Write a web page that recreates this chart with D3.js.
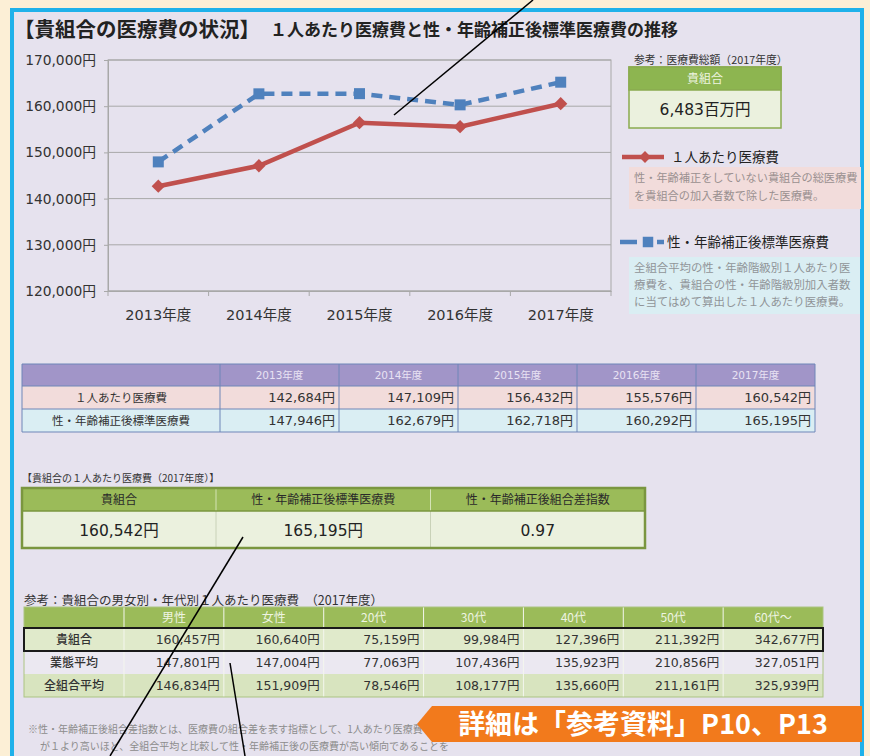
<!DOCTYPE html>
<html>
<head>
<meta charset="utf-8">
<script src="https://cdn.jsdelivr.net/npm/d3@7"></script>
<style>
  body { margin: 0; padding: 0; background: #fcefd6; }
  svg { display: block; }
</style>
</head>
<body>
<svg id="c" width="870" height="756"></svg>
<script>
// ---------------- DATA ----------------
const years = ["2013年度", "2014年度", "2015年度", "2016年度", "2017年度"];
const perCapita = [142684, 147109, 156432, 155576, 160542];
const standardized = [147946, 162679, 162718, 160292, 165195];
const yTicks = [120000, 130000, 140000, 150000, 160000, 170000];
const seriesNames = ["１人あたり医療費", "性・年齢補正後標準医療費"];
const totalCostLabel = "貴組合";
const totalCostValue = "6,483百万円";

const summaryHeaders = ["貴組合", "性・年齢補正後標準医療費", "性・年齢補正後組合差指数"];
const summaryIndex = 0.97;

const ageCols = ["男性", "女性", "20代", "30代", "40代", "50代", "60代〜"];
const ageRows = ["貴組合", "業態平均", "全組合平均"];
const ageKumiai = [160457, 160640, 75159, 99984, 127396, 211392, 342677];
const ageGyotai = [147801, 147004, 77063, 107436, 135923, 210856, 327051];
const ageZen = [146834, 151909, 78546, 108177, 135660, 211161, 325939];

// ---------------- SETUP ----------------
const JP = "'Noto Sans CJK JP', 'Noto Sans CJK SC', sans-serif";
const NUM = "'DejaVu Sans', 'Noto Sans CJK JP', sans-serif";
const fmt = d3.format(",");
const yen = v => fmt(v) + "円";

const svg = d3.select("#c");

// background + panel
svg.append("rect").attr("x", 0).attr("y", 0).attr("width", 870).attr("height", 756).attr("fill", "#fcefd6");
svg.append("rect").attr("x", 12).attr("y", 10).attr("width", 850).attr("height", 780)
  .attr("fill", "#e6e2ee").attr("stroke", "#1fb1ea").attr("stroke-width", 4);

// title
svg.append("text").attr("x", 14).attr("y", 37).attr("font-family", JP).attr("font-weight", "bold")
  .attr("font-size", 20.5).attr("fill", "#222").text("【貴組合の医療費の状況】");
svg.append("text").attr("x", 270).attr("y", 36).attr("font-family", JP).attr("font-weight", "bold")
  .attr("font-size", 17).attr("fill", "#222").text("１人あたり医療費と性・年齢補正後標準医療費の推移");

// ---------------- LINE CHART ----------------
const x = d3.scaleBand().domain(years).range([108, 611]);
const y = d3.scaleLinear().domain([120000, 170000]).range([291, 60]);
const cx = d => x(d) + x.bandwidth() / 2;

const g = svg.append("g");
g.selectAll("line.grid").data(yTicks).join("line")
  .attr("x1", 108).attr("x2", 611).attr("y1", d => y(d)).attr("y2", d => y(d))
  .attr("stroke", "#a8a8a8").attr("stroke-width", 1);
g.append("rect").attr("x", 108).attr("y", y(170000)).attr("width", 503).attr("height", y(120000) - y(170000))
  .attr("fill", "none").attr("stroke", "#a8a8a8");

const yAxis = g.append("g").attr("transform", "translate(108,0)")
  .call(d3.axisLeft(y).tickValues(yTicks).tickFormat(yen).tickSize(4).tickPadding(8));
yAxis.select(".domain").attr("stroke", "#a8a8a8");
yAxis.selectAll(".tick line").attr("stroke", "#a8a8a8");
yAxis.selectAll("text").attr("font-family", NUM).attr("font-size", 13.8).attr("fill", "#333");

const xAxis = g.append("g").attr("transform", "translate(0,291)")
  .call(d3.axisBottom(x).tickSize(0).tickPadding(19));
xAxis.select(".domain").attr("stroke", "#a8a8a8");
xAxis.selectAll("text").attr("font-family", NUM).attr("font-size", 14.5).attr("fill", "#333");
const bounds = years.map(d => x(d)).concat([x(years[years.length - 1]) + x.bandwidth()]);
g.selectAll("line.xt").data(bounds).join("line")
  .attr("x1", d => d).attr("x2", d => d).attr("y1", 291).attr("y2", 296)
  .attr("stroke", "#a8a8a8");

const line = d3.line().x((d, i) => cx(years[i])).y(d => y(d));
g.append("path").datum(standardized).attr("d", line).attr("fill", "none")
  .attr("stroke", "#4f81bd").attr("stroke-width", 4.5).attr("stroke-dasharray", "11,7");
g.append("path").datum(perCapita).attr("d", line).attr("fill", "none")
  .attr("stroke", "#c0504d").attr("stroke-width", 4.5);

const sq = d3.symbol().type(d3.symbolSquare);
g.selectAll("path.sq").data(standardized).join("path")
  .attr("d", sq.size(121)())
  .attr("transform", (d, i) => `translate(${cx(years[i])},${y(d)})`)
  .attr("fill", "#4f81bd");
g.selectAll("path.dm").data(perCapita).join("path")
  .attr("d", d3.symbol().type(d3.symbolSquare).size(88)())
  .attr("transform", (d, i) => `translate(${cx(years[i])},${y(d)}) rotate(45)`)
  .attr("fill", "#c0504d");

// ---------------- RIGHT PANEL ----------------
svg.append("text").attr("x", 634).attr("y", 60).attr("dy", "0.35em").attr("font-family", JP).attr("font-size", 10.8)
  .attr("fill", "#333").text("参考：医療費総額（2017年度）");
svg.append("rect").attr("x", 629).attr("y", 67).attr("width", 152).attr("height", 61)
  .attr("fill", "#ebf1de").attr("stroke", "#8aab4f").attr("stroke-width", 1.5);
svg.append("rect").attr("x", 629).attr("y", 67).attr("width", 152).attr("height", 23)
  .attr("fill", "#8db550").attr("stroke", "#8aab4f").attr("stroke-width", 1.5);
svg.append("text").attr("x", 705).attr("y", 79).attr("dy", "0.35em").attr("text-anchor", "middle")
  .attr("font-family", JP).attr("font-size", 12).attr("fill", "#eef4e0").text(totalCostLabel);
svg.append("text").attr("x", 705).attr("y", 110).attr("dy", "0.35em").attr("text-anchor", "middle")
  .attr("font-family", NUM).attr("font-size", 15.5).attr("fill", "#222").text(totalCostValue);

// legend 1
svg.append("line").attr("x1", 622).attr("x2", 664).attr("y1", 157).attr("y2", 157)
  .attr("stroke", "#c0504d").attr("stroke-width", 4.5);
svg.append("path").attr("d", d3.symbol().type(d3.symbolSquare).size(70)())
  .attr("transform", "translate(645,157) rotate(45)").attr("fill", "#c0504d");
svg.append("text").attr("x", 671).attr("y", 157).attr("dy", "0.35em").attr("font-family", JP)
  .attr("font-size", 13.5).attr("fill", "#222").text(seriesNames[0]);
svg.append("rect").attr("x", 629).attr("y", 167).attr("width", 232).attr("height", 42).attr("fill", "#f2dcdb");
["性・年齢補正をしていない貴組合の総医療費", "を貴組合の加入者数で除した医療費。"].forEach((t, i) => {
  svg.append("text").attr("x", 634).attr("y", 178 + i * 18).attr("dy", "0.35em").attr("font-family", JP)
    .attr("font-size", 11.2).attr("fill", "#9a9090").text(t);
});

// legend 2
svg.append("line").attr("x1", 620).attr("x2", 637).attr("y1", 242).attr("y2", 242)
  .attr("stroke", "#4f81bd").attr("stroke-width", 4.5);
svg.append("path").attr("d", sq.size(110)()).attr("transform", "translate(648,242)").attr("fill", "#4f81bd");
svg.append("line").attr("x1", 657).attr("x2", 664).attr("y1", 242).attr("y2", 242)
  .attr("stroke", "#4f81bd").attr("stroke-width", 4.5);
svg.append("text").attr("x", 667).attr("y", 242).attr("dy", "0.35em").attr("font-family", JP)
  .attr("font-size", 13.5).attr("fill", "#222").text(seriesNames[1]);
svg.append("rect").attr("x", 629).attr("y", 257).attr("width", 231).attr("height", 57).attr("fill", "#daeef3");
["全組合平均の性・年齢階級別１人あたり医", "療費を、貴組合の性・年齢階級別加入者数", "に当てはめて算出した１人あたり医療費。"].forEach((t, i) => {
  svg.append("text").attr("x", 634).attr("y", 268 + i * 17).attr("dy", "0.35em").attr("font-family", JP)
    .attr("font-size", 11.4).attr("fill", "#909498").text(t);
});

// ---------------- TABLE 1 ----------------
{
  const top = 364, rh = [22, 23, 23];
  const cols = d3.scaleBand().domain(years).range([220, 815]);
  const rowsY = [top, top + rh[0], top + rh[0] + rh[1], top + rh[0] + rh[1] + rh[2]];
  const fills = ["#a195c8", "#f2dcdb", "#daeef3"];
  const t = svg.append("g");
  fills.forEach((f, i) => t.append("rect").attr("x", 22).attr("y", rowsY[i]).attr("width", 793)
    .attr("height", rowsY[i + 1] - rowsY[i]).attr("fill", f));
  const stroke = "#6f86b8";
  rowsY.forEach(yy => t.append("line").attr("x1", 22).attr("x2", 815).attr("y1", yy).attr("y2", yy).attr("stroke", stroke));
  [22, ...years.map(d => cols(d)), 815].forEach(xx => t.append("line").attr("x1", xx).attr("x2", xx)
    .attr("y1", top).attr("y2", rowsY[3]).attr("stroke", stroke));
  t.selectAll("text.h").data(years).join("text")
    .attr("x", d => cols(d) + cols.bandwidth() / 2).attr("y", (rowsY[0] + rowsY[1]) / 2).attr("dy", "0.35em")
    .attr("text-anchor", "middle").attr("font-family", NUM).attr("font-size", 10.5).attr("fill", "#e8e2f3").text(d => d);
  [perCapita, standardized].forEach((vals, r) => {
    t.append("text").attr("x", 121).attr("y", (rowsY[r + 1] + rowsY[r + 2]) / 2).attr("dy", "0.35em")
      .attr("text-anchor", "middle").attr("font-family", JP).attr("font-size", 11.5).attr("fill", "#333").text(seriesNames[r]);
    t.selectAll("text.v" + r).data(vals).join("text")
      .attr("x", (d, i) => cols(years[i]) + cols.bandwidth() - 4).attr("y", (rowsY[r + 1] + rowsY[r + 2]) / 2).attr("dy", "0.35em")
      .attr("text-anchor", "end").attr("font-family", NUM).attr("font-size", 13).attr("fill", "#333").text(yen);
  });
}

// ---------------- TABLE 2 ----------------
{
  svg.append("text").attr("x", 22).attr("y", 478).attr("dy", "0.35em").attr("font-family", JP)
    .attr("font-size", 10).attr("fill", "#333").text("【貴組合の１人あたり医療費（2017年度）】");
  const first = d3.scaleBand().domain([summaryHeaders[0]]).range([22, 216]);
  const rest = d3.scaleBand().domain(summaryHeaders.slice(1)).range([216, 645]);
  const colX = h => (h === summaryHeaders[0] ? first(h) : rest(h));
  const colW = h => (h === summaryHeaders[0] ? first.bandwidth() : rest.bandwidth());
  const vals = [yen(perCapita[4]), yen(standardized[4]), d3.format(".2f")(summaryIndex)];
  const t = svg.append("g");
  t.append("rect").attr("x", 22).attr("y", 511).attr("width", 623).attr("height", 37).attr("fill", "#ebf1de");
  t.append("rect").attr("x", 22).attr("y", 488).attr("width", 623).attr("height", 23).attr("fill", "#9bbb59");
  summaryHeaders.slice(1).forEach(h => {
    t.append("line").attr("x1", colX(h)).attr("x2", colX(h)).attr("y1", 488).attr("y2", 511).attr("stroke", "#d4e3b5");
    t.append("line").attr("x1", colX(h)).attr("x2", colX(h)).attr("y1", 511).attr("y2", 548).attr("stroke", "#c9d2b8");
  });
  t.append("line").attr("x1", 22).attr("x2", 645).attr("y1", 511).attr("y2", 511).attr("stroke", "#7a963f").attr("stroke-width", 1.5);
  t.append("rect").attr("x", 22).attr("y", 488).attr("width", 623).attr("height", 60)
    .attr("fill", "none").attr("stroke", "#7a963f").attr("stroke-width", 2.5);
  t.selectAll("text.h").data(summaryHeaders).join("text")
    .attr("x", d => colX(d) + colW(d) / 2).attr("y", 500).attr("dy", "0.35em").attr("text-anchor", "middle")
    .attr("font-family", JP).attr("font-size", 12).attr("fill", "#2a2a2a").text(d => d);
  t.selectAll("text.v").data(vals).join("text")
    .attr("x", (d, i) => colX(summaryHeaders[i]) + colW(summaryHeaders[i]) / 2).attr("y", 531).attr("dy", "0.35em")
    .attr("text-anchor", "middle").attr("font-family", NUM).attr("font-size", 15.5).attr("fill", "#222").text(d => d);
}

// ---------------- TABLE 3 ----------------
{
  svg.append("text").attr("x", 24).attr("y", 601).attr("dy", "0.35em").attr("font-family", JP)
    .attr("font-size", 12.5).attr("fill", "#333").text("参考：貴組合の男女別・年代別１人あたり医療費　（2017年度）");
  const cols = d3.scaleBand().domain(ageCols).range([124, 823]);
  const rowData = [ageKumiai, ageGyotai, ageZen];
  const rowY = [607, 628, 651, 674, 697];
  const fills = ["#9bbb59", "#e0eacb", "#ebe8f1", "#d8e4bf"];
  const t = svg.append("g");
  fills.forEach((f, i) => t.append("rect").attr("x", 24).attr("y", rowY[i]).attr("width", 799)
    .attr("height", rowY[i + 1] - rowY[i]).attr("fill", f));
  ageCols.forEach(c => t.append("line").attr("x1", cols(c)).attr("x2", cols(c)).attr("y1", 607).attr("y2", 697)
    .attr("stroke", "#f4f6ee").attr("stroke-width", 1));
  t.append("rect").attr("x", 24).attr("y", 607).attr("width", 799).attr("height", 90)
    .attr("fill", "none").attr("stroke", "#abc482");
  t.append("rect").attr("x", 24).attr("y", 628).attr("width", 799).attr("height", 23)
    .attr("fill", "none").attr("stroke", "#1a1a1a").attr("stroke-width", 2);
  t.selectAll("text.h").data(ageCols).join("text")
    .attr("x", d => cols(d) + cols.bandwidth() / 2).attr("y", 617.5).attr("dy", "0.35em").attr("text-anchor", "middle")
    .attr("font-family", JP).attr("font-size", 12).attr("fill", "#eef4e2").text(d => d);
  rowData.forEach((vals, r) => {
    const cy = (rowY[r + 1] + rowY[r + 2]) / 2;
    t.append("text").attr("x", 74).attr("y", cy).attr("dy", "0.35em").attr("text-anchor", "middle")
      .attr("font-family", JP).attr("font-size", 12).attr("font-weight", 500).attr("fill", "#333").text(ageRows[r]);
    t.selectAll("text.v" + r).data(vals).join("text")
      .attr("x", (d, i) => cols(ageCols[i]) + cols.bandwidth() - 4).attr("y", cy).attr("dy", "0.35em")
      .attr("text-anchor", "end").attr("font-family", NUM).attr("font-size", 12.5).attr("fill", "#333").text(yen);
  });
}

// ---------------- FOOTNOTE + BANNER ----------------
svg.append("text").attr("x", 28).attr("y", 729).attr("dy", "0.35em").attr("font-family", JP).attr("font-size", 10)
  .attr("fill", "#8c8c8c").text("※性・年齢補正後組合差指数とは、医療費の組合差を表す指標として、1人あたり医療費");
svg.append("text").attr("x", 40).attr("y", 746).attr("dy", "0.35em").attr("font-family", JP).attr("font-size", 10)
  .attr("fill", "#8c8c8c").text("が１より高いほど、全組合平均と比較して性・年齢補正後の医療費が高い傾向であることを");

svg.append("path").attr("d", "M417,724 L432,706 L862,706 L862,742 L432,742 Z").attr("fill", "#f27a1c");
svg.append("text").attr("x", 643).attr("y", 724).attr("dy", "0.36em").attr("text-anchor", "middle")
  .attr("font-family", JP).attr("font-weight", "bold").attr("font-size", 27).attr("fill", "#ffffff")
  .text("詳細は「参考資料」P10、P13");

// annotation strokes
[[394, 115, 533, 0], [243, 537, 110, 756], [230, 663, 245, 756]].forEach(([a, b, c, d]) => {
  svg.append("line").attr("x1", a).attr("y1", b).attr("x2", c).attr("y2", d).attr("stroke", "#000").attr("stroke-width", 1.5);
});
</script>
</body>
</html>
